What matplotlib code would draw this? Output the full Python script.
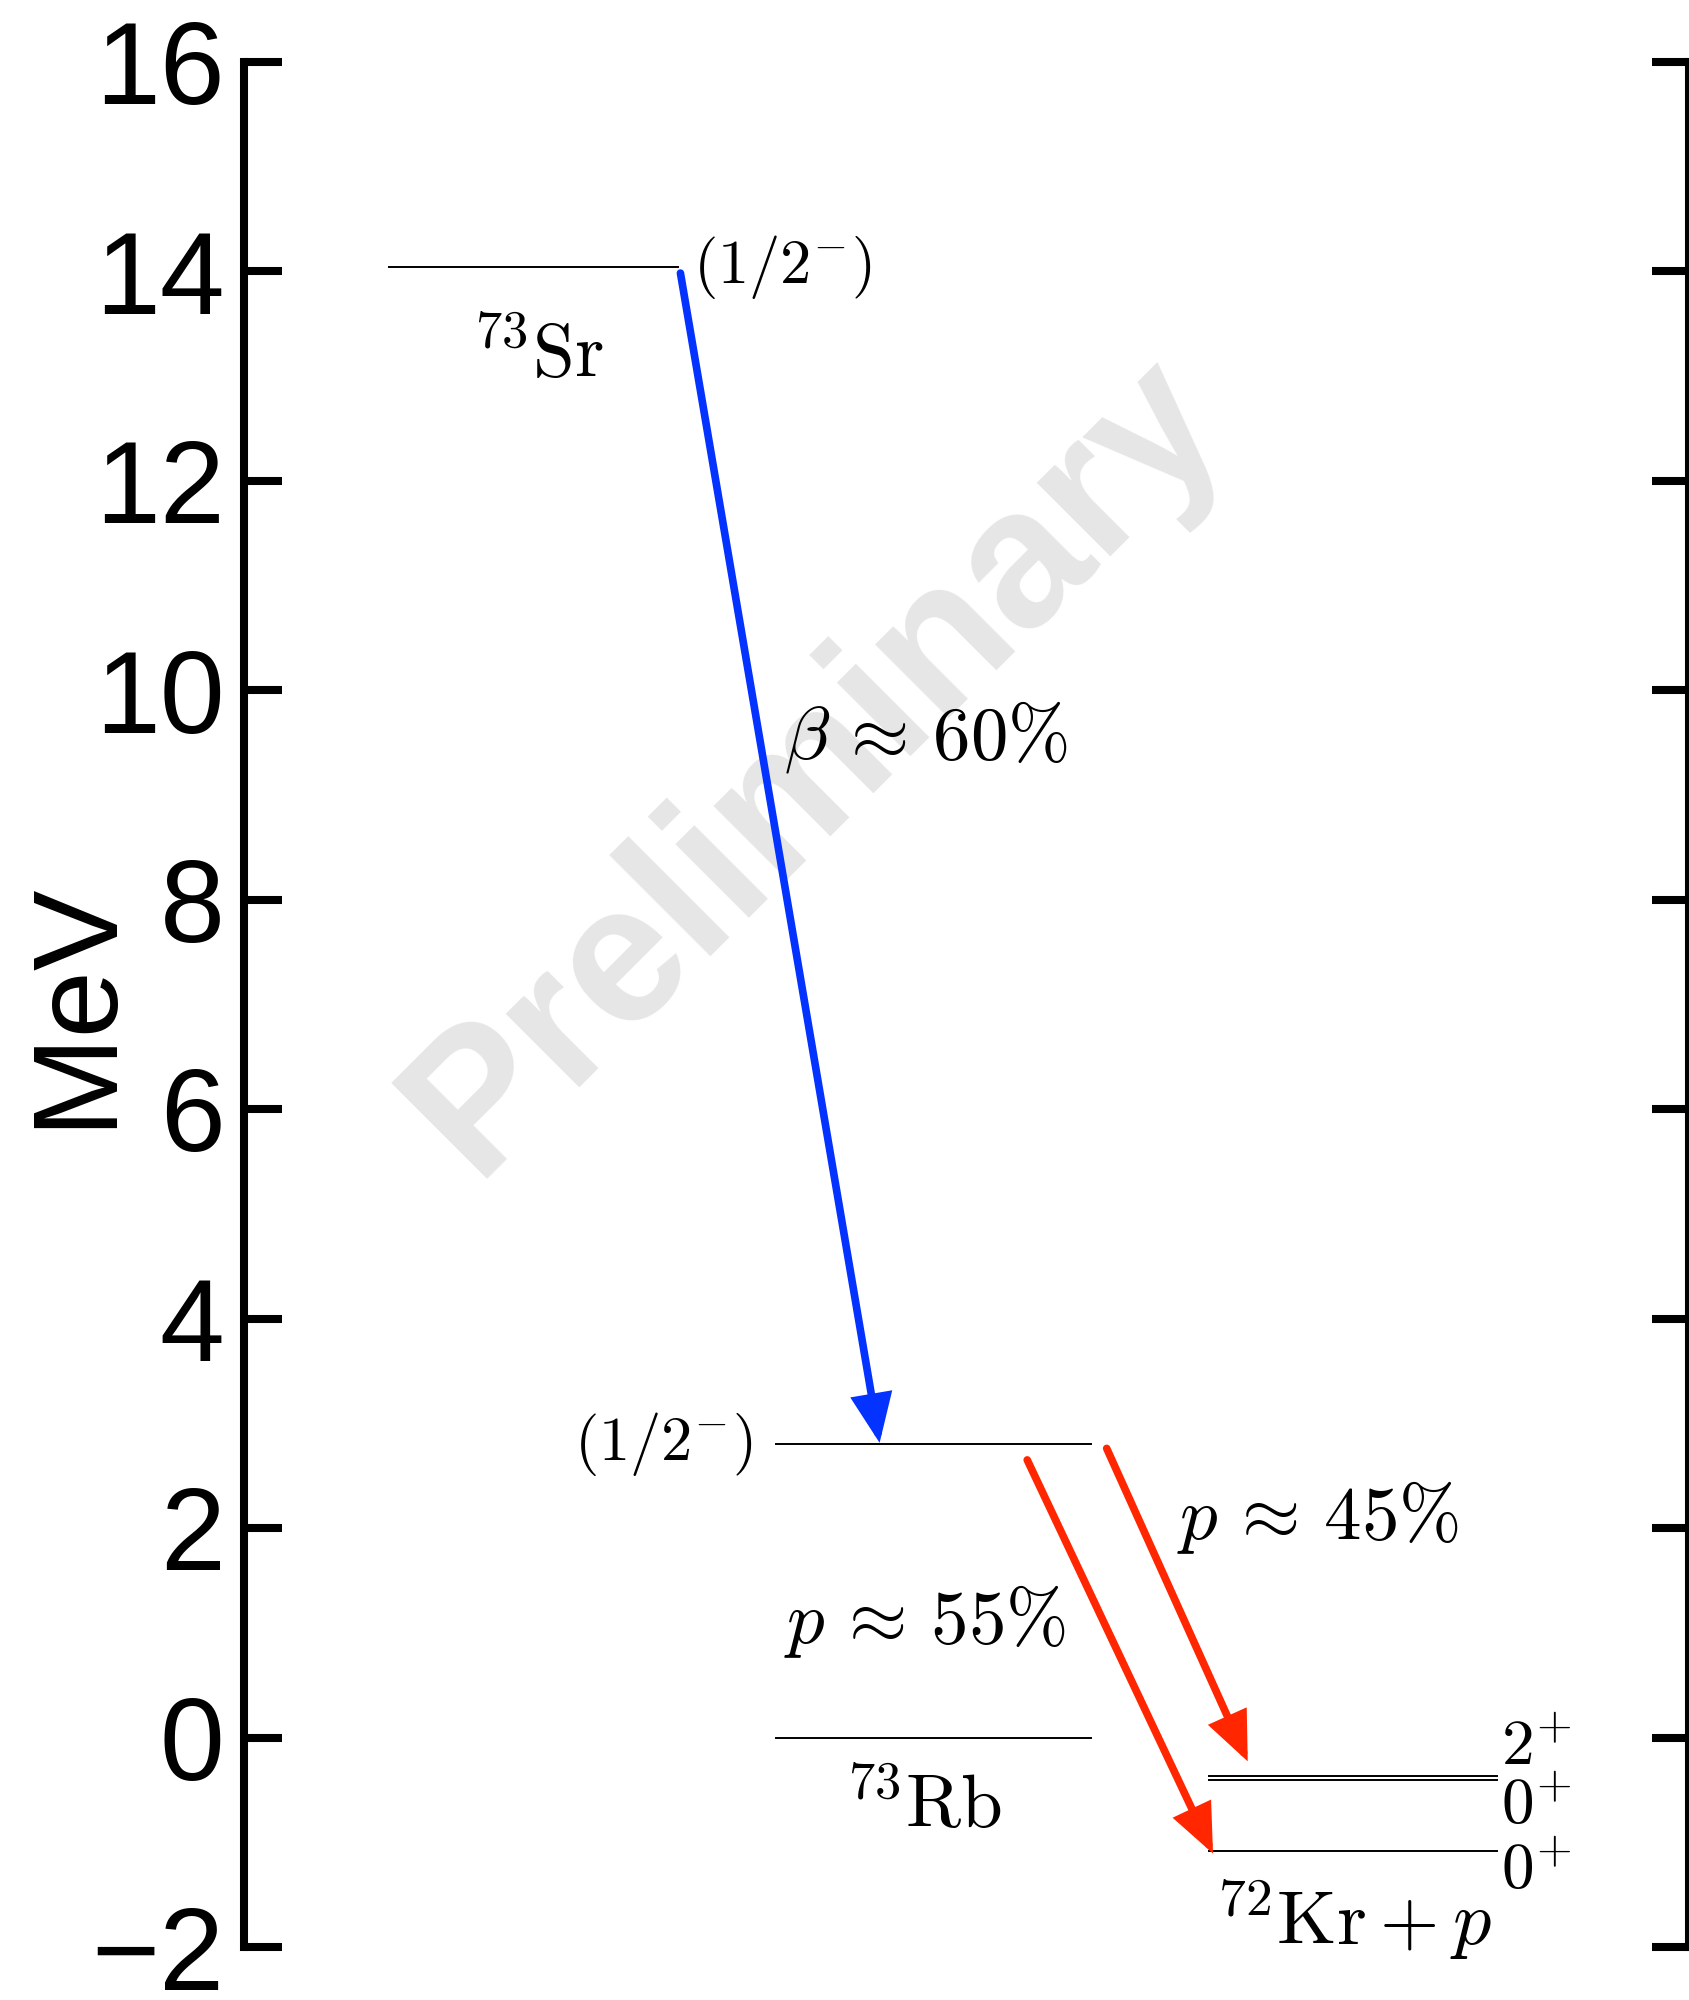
import matplotlib
matplotlib.use("Agg")
import matplotlib.pyplot as plt

plt.rcParams['font.family'] = ['Liberation Sans', 'DejaVu Sans']
plt.rcParams['mathtext.fontset'] = 'cm'

# level energies (MeV)
sr73_levels = [14.04]
rb73_levels = [2.80, 0.0]
kr72_levels = [-0.37, -0.41, -1.08]
kr72_spins = ["2^{+}", "0^{+}", "0^{+}"]
kr72_spin_y = [-0.26, -0.82, -1.44]

sr73_spin = "(1/2^{-})"
rb73_spin = "(1/2^{-})"

beta_branch = 60
p_branches = [55, 45]

yticks = [-2, 0, 2, 4, 6, 8, 10, 12, 14, 16]

BLUE = '#0432ff'
RED = '#ff2600'

fig = plt.figure(figsize=(16.89, 20), dpi=100)
ax = fig.add_axes([0.1445, 0.0265, 0.8555, 0.94275])
ax.set_xlim(0, 10)
ax.set_ylim(-2, 16)

# watermark goes underneath everything
ax.text(3.96, 9.28, 'Preliminary', color='#e6e6e6', fontsize=141,
        fontweight='bold', rotation=45, rotation_mode='anchor',
        ha='center', va='center', zorder=0)

# level lines
lw_lvl = 1.4
for e in sr73_levels:
    ax.plot([1.0, 3.0], [e, e], color='k', lw=lw_lvl, zorder=2)
for e in rb73_levels:
    ax.plot([3.68, 5.86], [e, e], color='k', lw=lw_lvl, zorder=2)
for e in kr72_levels:
    ax.plot([6.68, 8.67], [e, e], color='k', lw=lw_lvl, zorder=2)

# decay arrows
def arrow(x0, y0, x1, y1, color):
    ax.annotate('', xy=(x1, y1), xytext=(x0, y0),
                arrowprops=dict(arrowstyle='-|>,head_length=0.42,head_width=0.18',
                                color=color, lw=5.5, mutation_scale=62,
                                shrinkA=0, shrinkB=1, joinstyle='miter'),
                zorder=3)

arrow(3.02, sr73_levels[0] - 0.06, 4.40, rb73_levels[0], BLUE)
arrow(5.42, rb73_levels[0] - 0.15, 6.71, kr72_levels[2] - 0.04, RED)
arrow(5.97, rb73_levels[0] - 0.04, 6.95, kr72_levels[0] + 0.13, RED)

# labels
ax.text(3.11, sr73_levels[0], '$' + sr73_spin + '$', fontsize=45,
        ha='left', va='center')
ax.text(2.03, 12.99, r'$^{73}\mathrm{Sr}$', fontsize=54,
        ha='center', va='baseline')
ax.text(3.52, rb73_levels[0], '$' + rb73_spin + '$', fontsize=45,
        ha='right', va='center')
ax.text(4.70, -0.86, r'$^{73}\mathrm{Rb}$', fontsize=54,
        ha='center', va='baseline')
ax.text(6.72, -1.98, r'$^{72}\mathrm{Kr}+p$', fontsize=55,
        ha='left', va='baseline')
for s, ys in zip(kr72_spins, kr72_spin_y):
    ax.text(8.70, ys, '$' + s + '$', fontsize=47, ha='left', va='baseline')

ax.text(3.74, 9.35, r'$\beta\,\approx\,%d\%%$' % beta_branch, fontsize=54,
        ha='left', va='baseline')
ax.text(3.74, 0.90, r'$p\,\approx\,%d\%%$' % p_branches[0], fontsize=54,
        ha='left', va='baseline')
ax.text(6.46, 1.89, r'$p\,\approx\,%d\%%$' % p_branches[1], fontsize=54,
        ha='left', va='baseline')

# axes: only left and right spines, inward ticks
for side in ['top', 'bottom']:
    ax.spines[side].set_visible(False)
for side in ['left', 'right']:
    ax.spines[side].set_linewidth(5.8)
ax.set_xticks([])
ax.set_yticks(yticks)
ax.tick_params(axis='y', direction='in', left=True, right=True,
               length=27, width=5.8, labelsize=84, pad=14)
ax.set_ylabel('MeV', fontsize=87)
ax.yaxis.set_label_coords(-0.077, 0.5)

fig.savefig('out.png', dpi=100)
